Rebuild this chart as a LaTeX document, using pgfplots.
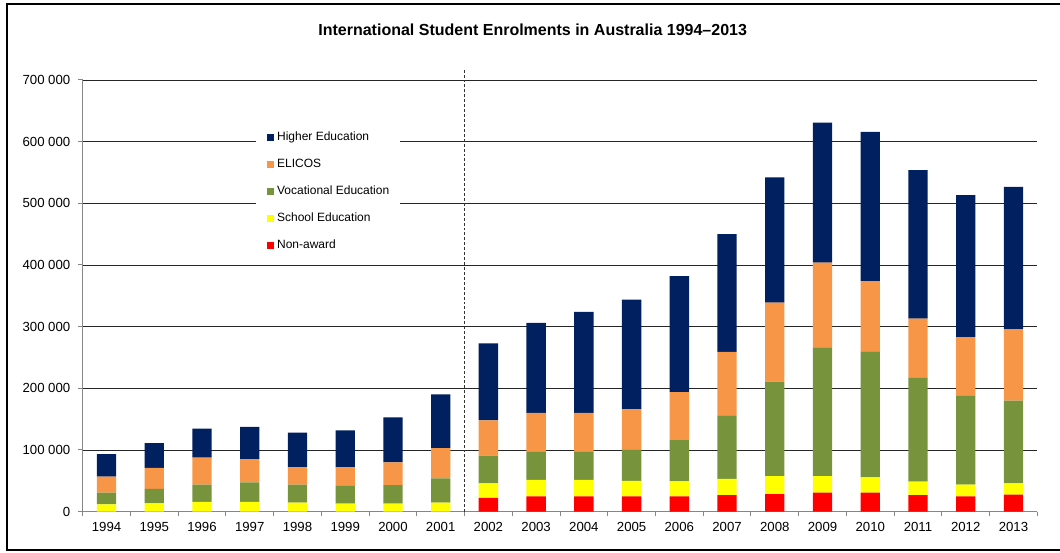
\documentclass[border=0pt]{standalone}
\usepackage{fontspec}
\setmainfont{Liberation Sans}
\usepackage{pgfplots}
\usepackage{pgfplotstable}
\pgfplotsset{compat=1.18}
\definecolor{cHigher}{HTML}{002060}
\definecolor{cElicos}{HTML}{F79646}
\definecolor{cVoc}{HTML}{77933C}
\definecolor{cSchool}{HTML}{FFFF00}
\definecolor{cNon}{HTML}{FF0000}
\definecolor{axgray}{HTML}{868686}
\pgfplotstableread{
x year na school voc elicos higher
0 1994 0 12000 19000 26000 36500
1 1995 0 13600 23400 34000 40000
2 1996 0 16000 28000 43500 47000
3 1997 0 16000 31600 37400 52700
4 1998 0 14600 29400 28000 56000
5 1999 0 13000 29000 30000 60000
6 2000 0 13000 30000 37000 73000
7 2001 0 14600 39400 49000 87000
8 2002 22400 23600 45000 57000 125000
9 2003 24600 26900 45500 63000 146000
10 2004 24600 26900 45500 63000 164000
11 2005 24600 25400 51000 65000 178000
12 2006 24600 24400 67000 78000 188000
13 2007 27000 26000 103000 103000 191000
14 2008 28600 29200 153200 128000 203000
15 2009 30800 27000 208700 137500 227000
16 2010 30800 24900 204300 114000 242000
17 2011 27000 21600 168400 96000 241000
18 2012 24900 18900 143800 95400 230500
19 2013 27600 18400 134000 116000 230500
}\data
\begin{document}
\begin{tikzpicture}
\useasboundingbox (0,0) rectangle (795pt,414.75pt);
\draw[line width=1.5pt] (800pt,411.75pt) -- (5.25pt,411.75pt) -- (5.25pt,2.25pt) -- (800pt,2.25pt);
\node[font=\bfseries\fontsize{12}{14}\selectfont] at (399.5pt,392.25pt) {International Student Enrolments in Australia 1994--2013};
\begin{axis}[
  at={(62pt,31pt)}, anchor=south west,
  scale only axis, width=716pt, height=323.75pt,
  ybar stacked, bar width=14.5pt,
  xmin=-0.5, xmax=19.5, ymin=0, ymax=700000,
  xtick={0,...,19},
  xticklabels={1994,1995,1996,1997,1998,1999,2000,2001,2002,2003,2004,2005,2006,2007,2008,2009,2010,2011,2012,2013},
  major x tick style={draw=none},
  minor xtick={-0.5,0.5,...,19.5},
  minor tick length=3pt,
  major tick length=3.75pt,
  tick align=outside,
  ytick={0,100000,...,700000},
  yticklabels={0,100 000,200 000,300 000,400 000,500 000,600 000,700 000},
  scaled y ticks=false,
  ymajorgrids,
  grid style={black!85, line width=0.6pt},
  axis x line*=bottom, axis y line*=left,
  axis line style={-, axgray, line width=0.75pt},
  tick style={axgray, line width=0.75pt},
  clip=false,
  tick label style={font=\fontsize{9.9}{11}\selectfont},
  xticklabel style={yshift=-1pt},
  yticklabel style={xshift=-2pt},
  reverse legend,
  legend cell align=left,
  legend style={at={(0.1815,0.896)}, anchor=north west, draw=none, fill=white,
    font=\fontsize{9}{10}\selectfont, inner xsep=8pt, inner ysep=4.5pt,
    row sep=11.3pt, column sep=2.5pt,
    nodes={inner sep=0pt, text height=7pt, text depth=2pt}},
  legend image code/.code={\fill[#1] (0pt,-2.6pt) rectangle (5.2pt,2.6pt);},
]
\addplot[fill=cNon, draw=none] table[x=x, y=na] {\data};
\addlegendentry{Non-award}
\addplot[fill=cSchool, draw=none] table[x=x, y=school] {\data};
\addlegendentry{School Education}
\addplot[fill=cVoc, draw=none] table[x=x, y=voc] {\data};
\addlegendentry{Vocational Education}
\addplot[fill=cElicos, draw=none] table[x=x, y=elicos] {\data};
\addlegendentry{ELICOS}
\addplot[fill=cHigher, draw=none] table[x=x, y=higher] {\data};
\addlegendentry{Higher Education}
\draw[black!80, line width=0.75pt, dash pattern=on 2.2pt off 1.5pt] (axis cs:7.5,0) -- ([yshift=8.25pt]axis cs:7.5,700000);
\end{axis}
\end{tikzpicture}
\end{document}
